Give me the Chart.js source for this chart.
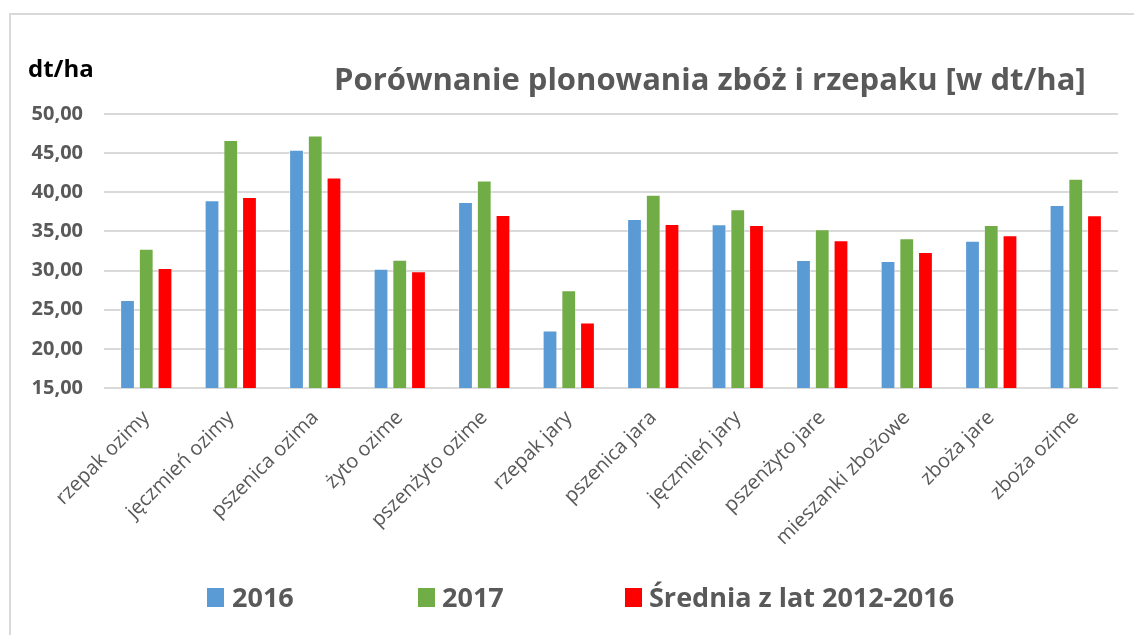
<!DOCTYPE html>
<html>
<head>
<meta charset="utf-8">
<script src="https://cdn.jsdelivr.net/npm/chart.js@4"></script>
<style>
  html, body { margin: 0; padding: 0; background: #fff; }
  #wrap { position: relative; width: 1134px; height: 635px; overflow: hidden; background: #fff; }
  #frame { position: absolute; left: 9px; top: 13px; width: 1140px; height: 640px; border-left: 2px solid #d9d9d9; border-top: 2px solid #d9d9d9; box-sizing: border-box; }
  canvas { position: absolute; left: 0; top: 0; }
  .txt { position: absolute; white-space: nowrap; font-family: "Open Sans", sans-serif; font-weight: bold; line-height: 1; }
  #title { left: 334px; top: 63px; font-size: 31px; color: #595959; }
  #unit { left: 28px; top: 56px; font-size: 24px; color: #000; }
  .lg { position: absolute; top: 588px; height: 19px; }
  .lgbox { position: absolute; top: 0; width: 17px; height: 19px; }
  .lgtxt { position: absolute; top: -5px; font-size: 27px; color: #595959; font-family: "Open Sans", sans-serif; font-weight: bold; line-height: 1; white-space: nowrap; }
</style>
</head>
<body>
<div id="wrap">
  <div id="frame"></div>
  <canvas id="c" width="1134" height="635"></canvas>
  <div id="title" class="txt">Porównanie plonowania zbóż i rzepaku [w dt/ha]</div>
  <div id="unit" class="txt">dt/ha</div>
  <div id="legend"></div>
</div>
<script>
const categories = ["rzepak ozimy", "jęczmień ozimy", "pszenica ozima", "żyto ozime", "pszenżyto ozime", "rzepak jary", "pszenica jara", "jęczmień jary", "pszenżyto jare", "mieszanki zbożowe", "zboża jare", "zboża ozime"];
const seriesNames = ["2016", "2017", "Średnia z lat 2012-2016"];
const values2016 = [26.25, 38.98, 45.42, 30.23, 38.76, 22.34, 36.60, 35.92, 31.34, 31.21, 33.80, 38.38];
const values2017 = [32.78, 46.69, 47.25, 31.38, 41.52, 27.48, 39.70, 37.83, 35.28, 34.14, 35.83, 41.73];
const valuesAvg  = [30.32, 39.40, 41.90, 29.90, 37.10, 23.36, 35.96, 35.83, 33.88, 32.36, 34.52, 37.07];
const yTicks = [15, 20, 25, 30, 35, 40, 45, 50];
const colors = ["#5B9BD5", "#70AD47", "#FF0000"];

const seriesValues = [values2016, values2017, valuesAvg];
const datasets = seriesNames.map((name, i) => ({
  label: name,
  data: seriesValues[i],
  backgroundColor: colors[i],
  borderColor: "rgba(255,255,255,0.45)",
  borderWidth: 1,
  categoryPercentage: 0.665,
  barPercentage: 0.79
}));

new Chart(document.getElementById("c"), {
  type: "bar",
  data: { labels: categories, datasets },
  options: {
    responsive: false,
    animation: false,
    devicePixelRatio: 1,
    layout: { padding: { left: 26, right: 16, top: 114, bottom: 75 } },
    plugins: { legend: { display: false }, tooltip: { enabled: false }, title: { display: false } },
    scales: {
      x: {
        grid: { display: false },
        border: { display: false },
        ticks: {
          minRotation: 45, maxRotation: 45, autoSkip: false, padding: 10,
          color: "#595959",
          font: { family: "Open Sans", size: 20 }
        }
      },
      y: {
        min: 15, max: 50,
        afterBuildTicks: (axis) => { axis.ticks = yTicks.map(v => ({ value: v })); },
        afterFit: (axis) => { axis.width = 78; },
        grid: { color: "#d9d9d9", lineWidth: 2, drawTicks: false },
        border: { display: false },
        ticks: {
          padding: 21,
          color: "#595959",
          font: { family: "Open Sans", size: 20, weight: "bold" },
          callback: (v) => Number(v).toFixed(2).replace(".", ",")
        }
      }
    }
  }
});

const lgPos = [{ box: 207, text: 232 }, { box: 418, text: 442 }, { box: 625, text: 649 }];
const lg = document.getElementById("legend");
seriesNames.forEach((name, i) => {
  const item = document.createElement("div");
  item.className = "lg";
  item.style.left = "0px";
  const b = document.createElement("div");
  b.className = "lgbox";
  b.style.left = lgPos[i].box + "px";
  b.style.background = colors[i];
  const t = document.createElement("div");
  t.className = "lgtxt";
  t.style.left = lgPos[i].text + "px";
  t.textContent = name;
  item.appendChild(b); item.appendChild(t);
  lg.appendChild(item);
});
</script>
</body>
</html>
